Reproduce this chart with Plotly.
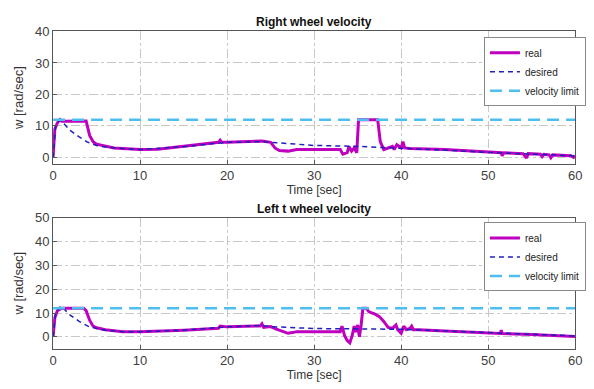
import plotly.graph_objects as go

# ---- data ----
t_right_real = [0, 0.2, 0.5, 0.8, 1.0, 2.0, 3.5, 3.8, 4.2, 4.6, 5, 6, 7, 8, 10, 12, 14, 16, 18, 19, 19.2, 19.4, 20, 22, 24, 25,
                25.5, 26, 27, 28, 30, 33, 33.3, 33.8, 34, 34.3, 34.6, 34.9, 35.1, 35.5, 37, 37.3, 37.6, 38, 38.5, 39, 39.2,
                39.5, 40, 40.2, 40.4, 41, 45, 50, 51.5, 51.6, 51.8, 54, 54.4, 54.6, 56, 56.2, 56.4, 57, 57.2, 57.4, 59.5, 59.8, 60]
w_right_real = [0, 9, 11, 12, 11.5, 11.5, 11.5, 11.6, 7, 5, 4.2, 3.5, 3, 2.8, 2.5, 2.6, 3.2, 3.8, 4.3, 4.8, 5.5, 4.8, 4.8, 5.0, 5.2, 4.8,
                3, 2.2, 2, 2.5, 2.5, 2.5, 1, 1.5, 3.5, 2, 3, 1.5, 12, 12, 12, 12, 5, 2.5, 3, 3.5, 2.5,
                4, 3, 5, 3, 2.8, 2.5, 1.8, 1.5, 0.5, 1.5, 1.2, -0.2, 1.2, 1, 0.3, 1, 0.8, -0.1, 0.8, 0.5, 0, 0.5]
t_right_des = [0, 0.3, 0.8, 1.5, 2, 3, 4, 5, 6, 8, 10, 15, 20, 24, 25, 30, 35, 40, 45, 50, 55, 60]
w_right_des = [0, 10, 12, 10, 8.5, 6.5, 4.8, 3.8, 3.3, 2.8, 2.5, 3.4, 4.8, 5, 4.8, 3.8, 3.5, 3, 2.3, 1.6, 1, 0.5]

t_left_real = [0, 0.2, 0.5, 1, 3.5, 3.8, 4.2, 4.6, 5, 6, 8, 10, 15, 19, 19.2, 20, 23.8, 24, 24.2, 25, 25.5, 26, 27, 27.5, 28, 33,
               33.2, 33.5, 33.8, 34.1, 34.4, 34.6, 34.8, 35, 35.2, 35.4, 35.6, 36, 36.3, 37, 37.5, 38, 38.5, 39, 39.4, 39.6,
               40, 40.3, 40.6, 41, 41.2, 41.4, 42, 45, 50, 51.4, 51.5, 51.6, 55, 60]
w_left_real = [0, 8, 11, 12, 12, 11, 7, 4.5, 3.8, 3, 2.2, 2.2, 2.8, 3.6, 4.5, 4.2, 4.6, 5.5, 4, 4.3, 3.5, 2.8, 1.5, 1.8, 2.2, 2.2,
               4.5, 0.5, -1.5, -2.5, 1, 4.5, 2, 5, 0, 5, 12, 12, 10.5, 9.5, 8.5, 6.5, 4, 3.6, 5, 3,
               1.5, 4.5, 3, 3.5, 4.5, 3, 3, 2.5, 1.6, 1.4, 2.8, 1.4, 1, 0.2]
t_left_des = [0, 0.3, 0.9, 1.5, 2, 3, 4, 5, 6, 8, 10, 15, 20, 24, 25, 30, 35, 40, 45, 50, 55, 60]
w_left_des = [0, 10, 13, 11, 9, 6.5, 4.5, 3.5, 2.8, 2.2, 2.2, 2.8, 4.2, 4.8, 4.3, 3.5, 3.5, 3.2, 2.5, 1.7, 1.0, 0.4]

t_limit = [0, 60]
w_limit = [12, 12]

titles = ["Right wheel velocity", "Left t wheel velocity"]

REAL = "#bf00bf"
DES = "#1f1fbf"
LIM = "#4dbeee"
FONT = "Liberation Sans, Arial, sans-serif"

fig = go.Figure()

def add_panel(row, tr, wr, td, wd, legend):
    xa = "x" if row == 1 else "x2"
    ya = "y" if row == 1 else "y2"
    fig.add_trace(go.Scatter(x=tr, y=wr, mode="lines", name="real",
                             line=dict(color=REAL, width=3), xaxis=xa, yaxis=ya, legend=legend))
    fig.add_trace(go.Scatter(x=td, y=wd, mode="lines", name="desired",
                             line=dict(color=DES, width=1.5, dash="5px,4px"), xaxis=xa, yaxis=ya, legend=legend))
    fig.add_trace(go.Scatter(x=t_limit, y=w_limit, mode="lines", name="velocity limit",
                             line=dict(color=LIM, width=2.5, dash="12px,7px"), xaxis=xa, yaxis=ya, legend=legend))

add_panel(1, t_right_real, w_right_real, t_right_des, w_right_des, "legend")
add_panel(2, t_left_real, w_left_real, t_left_des, w_left_des, "legend2")

W, H = 594, 389
xdom = [50 / W, 582 / W]
ydom1 = [1 - 160 / H, 1 - 25 / H]
ydom2 = [1 - 349 / H, 1 - 215 / H]

axis_common = dict(showline=True, linecolor="#555555", linewidth=1, mirror=True,
                   showgrid=True, gridcolor="#c8c8c8", griddash="dashdot", gridwidth=1,
                   ticks="inside", ticklen=4, tickcolor="#555555", zeroline=False,
                   tickfont=dict(family=FONT, size=13, color="#404040"))

ytitle_font = dict(family=FONT, size=13, color="#333333")
xtitle_font = dict(family=FONT, size=12, color="#333333")
leg_common = dict(xanchor="left", yanchor="top", bgcolor="white", bordercolor="#888888", borderwidth=1,
                  font=dict(family=FONT, size=10, color="#222222"), itemwidth=30, tracegroupgap=0)

fig.update_layout(
    width=W, height=H, margin=dict(l=0, r=0, t=0, b=0),
    paper_bgcolor="white", plot_bgcolor="white",
    font=dict(family=FONT, color="#222222"),
    xaxis=dict(domain=xdom, anchor="y", range=[0, 60], dtick=10,
               title=dict(text="Time [sec]", font=xtitle_font, standoff=2), **axis_common),
    yaxis=dict(domain=ydom1, anchor="x", range=[-2, 40], dtick=10,
               title=dict(text="w [rad/sec]", font=ytitle_font, standoff=8), **axis_common),
    xaxis2=dict(domain=xdom, anchor="y2", range=[0, 60], dtick=10,
                title=dict(text="Time [sec]", font=xtitle_font, standoff=2), **axis_common),
    yaxis2=dict(domain=ydom2, anchor="x2", range=[-5, 50], dtick=10,
                title=dict(text="w [rad/sec]", font=ytitle_font, standoff=8), **axis_common),
    legend=dict(x=489 / W, y=1 - 31 / H, **leg_common),
    legend2=dict(x=489 / W, y=1 - 220 / H, **leg_common),
    annotations=[
        dict(text="<b>" + titles[0] + "</b>", x=(xdom[0] + xdom[1]) / 2, y=1 - 15 / H, xref="paper", yref="paper",
             showarrow=False, font=dict(family=FONT, size=12, color="#111111"), xanchor="center", yanchor="middle"),
        dict(text="<b>" + titles[1] + "</b>", x=(xdom[0] + xdom[1]) / 2, y=1 - 206 / H, xref="paper", yref="paper",
             showarrow=False, font=dict(family=FONT, size=12, color="#111111"), xanchor="center", yanchor="middle"),
    ],
)

fig.write_html("out.html")
